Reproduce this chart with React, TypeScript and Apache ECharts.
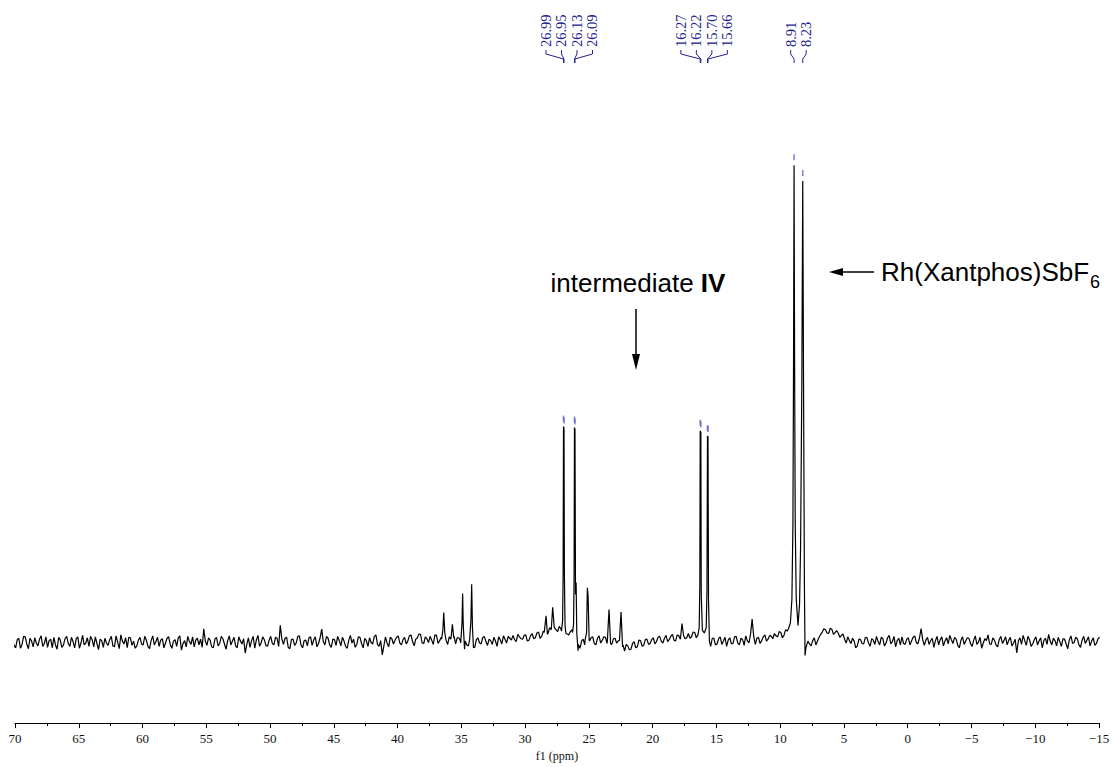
import React, { useEffect, useRef } from "react";
import * as echarts from "echarts";

// ---------- data ----------
// baseline trace sampled every 0.125 ppm from 70.2 ppm downwards (rows of 5 ppm)
const baselineStart = 70.2;
const baselineStep = 0.125;
const baselineRows: number[][] = [
  [0.3,-0.7,-1.2,0.5,0.8,-1.3,-0.5,1.2,1.1,-0.4,-1.4,0.8,0.2,-1.0,0.9,-0.2,-0.8,0.6,1.3,-0.9,-0.3,1.1,-1.1,0.3,0.6,-1.2,1.0,-0.6,-1.5,1.0,0.4,-1.1,-0.6,0.7,1.2,-0.3,-0.9,1.0,0.1,-1.2],
  [0.7,1.1,-1.3,-0.2,1.4,-0.6,-0.2,0.9,-0.9,1.2,0.5,-1.0,1.1,-0.3,-1.6,0.6,0.3,-1.1,0.8,-0.2,-0.7,0.5,1.2,-0.8,-1.0,1.3,0.0,-1.4,1.5,0.2,-0.4,0.9,-1.2,1.0,0.9,-0.7,0.2,-1.3,-0.8,0.4],
  [1.0,-0.4,-0.6,1.2,0.4,-0.9,-1.4,0.3,1.3,-0.6,0.1,1.0,-0.9,0.4,0.7,-1.2,-0.2,0.8,1.1,-0.5,-1.3,0.2,0.5,-0.9,0.9,1.3,-1.7,-0.3,0.3,-1.0,1.2,0.1,-0.5,1.1,-1.0,0.4,0.8,-0.6,0.6,-1.1],
  [2.8,0.2,-0.7,0.9,0.4,-1.0,-1.2,0.6,1.0,-0.8,-0.3,1.2,0.7,-0.4,-1.5,0.3,1.3,-0.6,0.2,1.0,-0.8,-1.2,1.1,0.2,-0.4,0.7,-2.3,-0.5,0.9,-1.1,0.3,1.2,-1.3,0.4,1.4,-0.9,-0.2,1.1,0.5,-0.7],
  [-0.9,0.4,1.2,-0.3,-0.6,1.0,0.8,-0.9,3.5,0.6,-0.5,0.8,1.0,-1.1,-1.4,0.5,0.6,-0.7,-0.2,1.2,1.3,-0.6,-1.2,0.3,0.4,-0.8,0.9,1.1,-0.7,0.5,1.1,-1.0,-0.3,0.9,2.7,0.1,-0.6,1.2,0.8,-0.6],
  [-1.1,0.6,0.5,-0.7,1.2,0.3,-0.8,1.0,0.2,-0.9,-1.3,0.4,1.4,-0.2,0.6,-1.1,-0.5,1.1,1.0,-0.3,-1.2,0.8,0.3,-0.9,0.9,-0.1,-0.4,1.2,1.5,-0.5,-0.9,0.3,-2.7,-0.8,1.1,-0.2,-1.0,1.0,0.7,-0.4],
  [0.4,1.0,1.3,-0.2,-0.6,0.5,1.0,-0.4,0.2,1.3,1.5,0.1,-0.8,0.6,0.9,1.7,1.6,-0.2,-0.3,1.1,0.7,-0.1,1.2,0.4,-0.5,1.5,1.4,-0.3,0.3,1.0,0.8,1.3,0.5,-0.5,1.1,0.6,0.2,1.2,-0.4,0.9],
  [0.9,0.3,-0.5,0.7,0.2,-0.6,-0.8,0.8,0.6,-0.4,-1.1,0.5,0.9,-0.2,-0.4,0.9,1.2,0.1,-0.7,0.6,0.3,-0.5,1.0,0.2,-0.9,1.1,0.5,-0.4,1.3,0.6,-0.2,1.2,0.8,0.4,1.4,0.5,0.1,1.6,1.1,0.7],
  [0.6,1.4,1.5,0.2,0.4,1.3,1.8,0.7,0.9,1.9,2.1,0.8,1.2,2.3,2.6,1.4,1.9,3.0,2.4,1.8,3.0,2.6,2.2,3.3,2.8,1.9,2.5,2.9,1.7,1.5,2.2,2.6,2.0,1.2,0.8,-0.5,-1.3,0.2,0.6,-0.6],
  [0.5,-0.4,0.2,0.9,1.1,-0.3,-0.6,0.8,1.3,-0.2,0.4,1.1,1.0,-0.3,0.6,0.1,-0.5,0.7,0.8,-0.2,0.2,0.9,0.4,-0.6,-1.9,-0.5,-0.8,-1.6,-1.5,-0.3,0.1,-1.2,-1.0,0.4,0.3,-0.9,-0.7,0.5,0.6,-0.5],
  [-0.3,0.5,0.9,-0.4,0.1,1.0,1.2,0.2,-0.2,0.8,1.4,0.1,0.5,1.2,1.6,0.4,0.2,1.5,1.3,0.6,3.9,1.4,0.7,0.9,1.8,0.8,1.1,2.1,2.0,0.9,1.5,2.2,1.7,1.0,1.9,2.4,1.6,0.3,-0.9,0.8],
  [0.8,-0.6,-0.4,0.7,1.1,-0.5,0.2,1.0,-0.9,0.4,0.9,-0.4,-0.3,1.1,1.2,-0.2,-0.6,0.8,0.5,-0.7,1.3,0.3,-0.2,1.6,4.8,1.2,-0.5,0.8,1.0,-0.3,0.3,1.1,1.5,0.2,0.6,1.4,1.2,0.7,1.8,1.3],
  [1.1,2.2,2.0,0.9,1.4,2.6,2.3,1.7,3.0,3.3,3.2,3.4,3.4,2.9,3.6,3.1,3.0,-1.5,-0.9,0.2,-0.4,-0.8,0.3,0.9,-0.6,0.2,1.0,1.6,2.1,2.8,2.6,1.9,1.8,2.9,2.7,1.6,2.0,2.4,1.9,1.0],
  [1.4,1.7,0.6,-0.2,1.1,0.3,-0.3,0.8,0.2,-1.2,-0.8,0.6,0.5,-0.3,-0.4,0.9,1.0,-0.2,-0.9,0.7,0.4,-0.5,1.2,0.1,-0.6,1.0,0.7,-0.8,-0.2,0.9,1.4,-0.4,0.1,1.2,-1.0,0.3,0.8,-0.6,1.1,-0.3],
  [-0.5,0.6,0.9,-0.6,0.2,1.0,1.3,-0.1,-0.4,0.9,2.8,0.5,-0.7,0.4,1.0,-0.5,0.3,0.8,-1.1,0.3,1.2,-0.6,0.5,1.1,-0.8,0.2,0.9,-0.4,1.4,0.5,-0.3,1.0,0.6,-0.7,-1.2,0.4,1.1,-0.5,0.2,0.9],
  [0.8,-0.3,-0.9,0.4,1.3,-0.5,0.0,1.0,-1.3,-0.2,0.7,0.3,1.5,-0.4,-0.5,0.9,0.4,-0.6,-1.0,0.5,1.2,-0.3,0.3,1.1,-0.6,0.4,1.0,-0.8,-0.2,0.6,-2.3,0.2,0.9,-0.5,1.4,0.3,-0.7,1.2,0.5,-0.9],
  [-0.4,0.5,1.1,-0.6,0.2,0.9,-1.2,0.3,0.8,-0.5,1.6,0.2,-0.6,0.8,0.3,-0.8,1.0,0.1,-0.9,0.7,0.6,-0.4,-1.4,0.5,1.3,-0.3,-0.1,1.0,0.7,-0.6,-1.1,0.4,1.2,-0.3,0.4,1.1,-0.8,0.2,0.9,-0.7],
  [-0.3,0.7,1.0],
];

// resolved signals: [ppm, intensity]
const peak36_4: number[][] = [[36.55, 0.6], [36.45, 2.5], [36.38, 6.2], [36.3, 2.0], [36.2, 0.4]];
const peak35_7: number[][] = [[35.8, 0.5], [35.7, 3.7], [35.6, 0.9]];
const peak34_9: number[][] = [[35.05, -0.2], [34.95, 4.0], [34.9, 10.2], [34.85, 3.5], [34.75, -1.5]];
const peak34_2: number[][] = [[34.35, 0.5], [34.25, 4.5], [34.19, 12.1], [34.13, 3.0], [34.05, -1.2]];
const peak28_4: number[][] = [[28.5, 2.0], [28.36, 5.5], [28.25, 1.6]];
const peak27_8: number[][] = [[27.95, 2.6], [27.84, 7.3], [27.72, 3.2]];
const peak27_0: number[][] = [[27.15, 2.3], [27.06, 4.5], [27.02, 14], [26.99, 45.2], [26.95, 44.8], [26.92, 14], [26.87, 3.5], [26.8, 1.8]];
const peak26_1: number[][] = [[26.28, 2.0], [26.2, 3.8], [26.16, 14], [26.13, 45.0], [26.09, 44.6], [26.05, 10], [26.0, 12.5], [25.95, 2.0], [25.85, -1.8]];
const peak25_1: number[][] = [[25.3, 0.4], [25.18, 2.0], [25.12, 11.4], [25.06, 9.5], [24.98, 0.5]];
const peak23_4: number[][] = [[23.55, 0.3], [23.42, 6.8], [23.3, -0.3]];
const peak22_5: number[][] = [[22.6, 0.4], [22.48, 6.3], [22.36, -1.0]];
const peak16_0: number[][] = [
  [16.45, 1.5], [16.35, 3.0], [16.3, 12], [16.27, 44.3], [16.22, 44.0], [16.19, 10], [16.1, 2.5],
  [15.95, 1.9], [15.8, 3.0], [15.74, 11], [15.7, 43.2], [15.66, 43.0], [15.62, 9], [15.55, 0.2],
];
const peak8_6: number[][] = [
  [9.35, 2.8], [9.2, 4.0], [9.08, 9], [9.0, 25], [8.95, 60], [8.91, 100], [8.87, 60], [8.82, 25], [8.74, 9],
  [8.6, 3.5], [8.48, 8], [8.4, 20], [8.3, 55], [8.23, 96.7], [8.17, 55], [8.1, 12], [8.05, -2.8], [7.98, -1.2],
];
const signals = [peak36_4, peak35_7, peak34_9, peak34_2, peak28_4, peak27_8, peak27_0, peak26_1, peak25_1, peak23_4, peak22_5, peak16_0, peak8_6];

// peak picking
const pickPpm = [26.99, 26.95, 26.13, 26.09, 16.27, 16.22, 15.7, 15.66, 8.91, 8.23];
const pickHeight = [45.2, 44.8, 45.0, 44.6, 44.3, 44.0, 43.2, 43.0, 100, 96.7];
const pickGroups: number[][] = [
  [26.99, 26.95, 26.13, 26.09],
  [16.27, 16.22, 15.7, 15.66],
  [8.91, 8.23],
];

// axis
const xMin = -15;
const xMax = 70;
const xInterval = 5;
const yMin = -17;
const yMax = 120;

function buildTrace(): number[][] {
  const flat = baselineRows.flat();
  const pts: number[][] = [];
  flat.forEach((v, i) => {
    const ppm = Math.round((baselineStart - i * baselineStep) * 1000) / 1000;
    const inside = signals.some((s) => {
      const hi = s[0][0];
      const lo = s[s.length - 1][0];
      return ppm <= hi && ppm >= lo;
    });
    if (!inside) pts.push([ppm, v]);
  });
  signals.forEach((s) => s.forEach((p) => pts.push(p)));
  pts.sort((a, b) => b[0] - a[0]);
  return pts;
}

const BLUE = "#23238f";
const SERIF = "'Liberation Serif', 'Times New Roman', serif";
const SANS = "'Liberation Sans', Arial, sans-serif";

export default function App() {
  const ref = useRef<HTMLDivElement>(null);

  useEffect(() => {
    document.body.style.margin = "0";
    const chart = echarts.init(ref.current as HTMLDivElement, null, { renderer: "svg" });
    const fmt = (v: number) => (v < 0 ? "\u2212" + Math.abs(v) : String(v));
    chart.setOption({
      animation: false,
      backgroundColor: "#fff",
      grid: { left: 15, right: 14, top: 70, bottom: 38 },
      xAxis: {
        type: "value",
        inverse: true,
        min: xMin,
        max: xMax,
        interval: xInterval,
        name: "f1 (ppm)",
        nameLocation: "middle",
        nameGap: 24,
        nameTextStyle: { fontFamily: SERIF, fontSize: 12, color: "#111" },
        axisLine: { onZero: false, lineStyle: { color: "#000", width: 1 } },
        axisTick: { length: 5, lineStyle: { color: "#000" } },
        minorTick: { show: true, splitNumber: 2, length: 3, lineStyle: { color: "#000" } },
        splitLine: { show: false },
        axisLabel: { formatter: fmt, margin: 9, fontFamily: SERIF, fontSize: 13, color: "#111" },
      },
      yAxis: { type: "value", min: yMin, max: yMax, show: false },
      series: [
        {
          type: "line",
          data: buildTrace(),
          showSymbol: false,
          silent: true,
          lineStyle: { color: "#000", width: 1.2 },
        },
        {
          type: "scatter",
          data: pickPpm.map((p, i) => [p, pickHeight[i]]),
          symbol: "rect",
          symbolSize: [1.5, 6],
          symbolOffset: [0, -8],
          silent: true,
          itemStyle: { color: "#5b5bc4" },
        },
      ],
    });

    const px = (v: number) => chart.convertToPixel({ xAxisIndex: 0 }, v) as number;
    const g: any[] = [];
    const spacing = 15.5;
    pickGroups.forEach((grp) => {
      const pxs = grp.map(px);
      const center = (Math.min(...pxs) + Math.max(...pxs)) / 2;
      grp.forEach((p, i) => {
        const lx = center + (i - (grp.length - 1) / 2) * spacing;
        g.push({
          type: "text",
          x: lx,
          y: 47,
          rotation: Math.PI / 2,
          style: {
            text: p.toFixed(2),
            fill: BLUE,
            font: `14.5px ${SERIF}`,
            textAlign: "left",
            textVerticalAlign: "middle",
          },
        });
        g.push({
          type: "polyline",
          shape: { points: [[lx, 50], [lx, 54], [pxs[i], 59], [pxs[i], 63]] },
          style: { stroke: BLUE, lineWidth: 1, fill: "none" },
        });
      });
    });

    // annotation: intermediate IV
    g.push({
      type: "text",
      x: 638,
      y: 283,
      style: {
        text: "{n|intermediate }{b|IV}",
        textAlign: "center",
        textVerticalAlign: "middle",
        rich: {
          n: { fontFamily: SANS, fontSize: 26, fill: "#000", color: "#000" },
          b: { fontFamily: SANS, fontSize: 26, fontWeight: "bold", fill: "#000", color: "#000" },
        },
      },
    });
    g.push({ type: "line", shape: { x1: 636, y1: 309, x2: 636, y2: 356 }, style: { stroke: "#000", lineWidth: 1.5 } });
    g.push({ type: "polygon", shape: { points: [[632, 354], [640, 354], [636, 370]] }, style: { fill: "#000" } });

    // annotation: Rh(Xantphos)SbF6
    const mainFont = `26px ${SANS}`;
    let w = 200;
    try {
      const ctx = document.createElement("canvas").getContext("2d");
      if (ctx) {
        ctx.font = mainFont;
        w = ctx.measureText("Rh(Xantphos)SbF").width;
      }
    } catch (e) {}
    g.push({ type: "line", shape: { x1: 841, y1: 272, x2: 874, y2: 272 }, style: { stroke: "#000", lineWidth: 1.5 } });
    g.push({ type: "polygon", shape: { points: [[829, 272], [843, 268], [843, 276]] }, style: { fill: "#000" } });
    g.push({
      type: "text",
      x: 881,
      y: 272,
      style: { text: "Rh(Xantphos)SbF", font: mainFont, fill: "#000", textAlign: "left", textVerticalAlign: "middle" },
    });
    g.push({
      type: "text",
      x: 881 + w + 1,
      y: 282,
      style: { text: "6", font: `18px ${SANS}`, fill: "#000", textAlign: "left", textVerticalAlign: "middle" },
    });

    chart.setOption({ graphic: g });
    return () => chart.dispose();
  }, []);

  return <div ref={ref} style={{ position: "absolute", left: 0, top: 0, width: 1113, height: 767 }} />;
}
